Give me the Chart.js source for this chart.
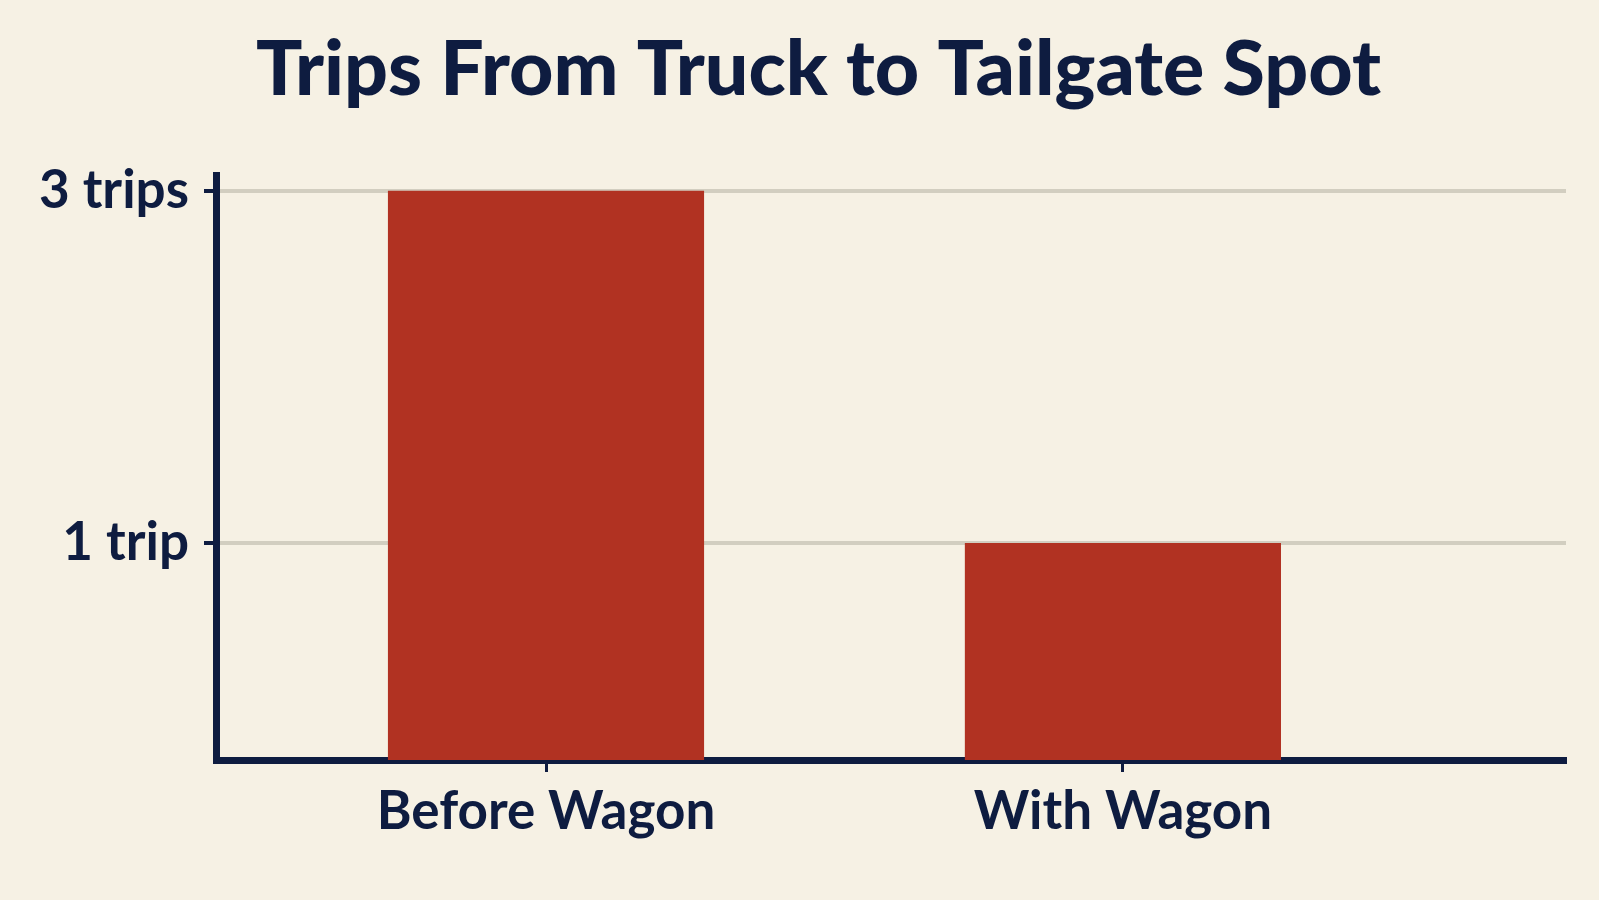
<!DOCTYPE html>
<html>
<head>
<meta charset="utf-8">
<title>Trips From Truck to Tailgate Spot</title>
<script src="https://cdn.jsdelivr.net/npm/chart.js@4.4.1/dist/chart.umd.min.js"></script>
<style>
  html, body { margin: 0; padding: 0; background: #f6f1e4; }
  #wrap { width: 1599px; height: 900px; }
</style>
</head>
<body>
<div id="wrap"><canvas id="tripsChart"></canvas></div>
<script>
// Chart data
const categories = ['Before Wagon', 'With Wagon'];
const categoryPositions = [0, 1];
const trips = [3, 1];
const yTickValues = [1, 3];
const yTickLabels = ['1 trip', '3 trips'];

// Colours
const navy = '#0e1c40';
const barRed = '#b13222';
const gridGrey = '#d2cec0';
const fontFamily = 'Lato, "Liberation Sans", sans-serif';

// Axis ranges (the picture's value axis starts a little below zero)
const yMin = -0.233;
const yMax = 3.09;

const points = categoryPositions.map((x, i) => ({ x: x, y: trips[i] }));

// Title in the picture sits a bit right of the canvas centre
const shiftTitle = {
    id: 'shiftTitle',
    afterLayout(chart) {
        const t = chart.titleBlock;
        if (t) { t.left += 16; t.right += 16; }
    }
};

new Chart(document.getElementById('tripsChart'), {
    type: 'bar',
    data: {
        datasets: [{
            label: 'Trips',
            data: points,
            backgroundColor: barRed,
            borderWidth: 0,
            base: yMin,
            categoryPercentage: 1,
            barPercentage: 0.548
        }]
    },
    plugins: [shiftTitle],
    options: {
        responsive: true,
        maintainAspectRatio: false,
        animation: false,
        layout: {
            padding: { left: 39, right: 33, top: 0, bottom: 0 }
        },
        plugins: {
            legend: { display: false },
            tooltip: { enabled: false },
            title: {
                display: true,
                text: 'Trips From Truck to Tailgate Spot',
                color: navy,
                font: { family: fontFamily, size: 77, weight: 900, lineHeight: 1.2 },
                padding: { top: 24, bottom: 58.6 }
            }
        },
        scales: {
            x: {
                type: 'linear',
                min: -0.572,
                max: 1.768,
                offset: false,
                z: 1,
                afterBuildTicks: (scale) => {
                    scale.ticks = categoryPositions.map(v => ({ value: v }));
                },
                afterFit: (scale) => { scale.height = 140; },
                ticks: {
                    color: navy,
                    font: { family: fontFamily, size: 53, weight: 'bold', lineHeight: 1.2 },
                    padding: 8,
                    maxRotation: 0,
                    autoSkip: false,
                    callback: (value) => categories[categoryPositions.indexOf(value)]
                },
                grid: {
                    offset: false,
                    drawOnChartArea: false,
                    drawTicks: true,
                    tickLength: 12,
                    tickColor: navy,
                    tickWidth: 3
                },
                border: { display: true, color: navy, width: 7 }
            },
            y: {
                min: yMin,
                max: yMax,
                afterBuildTicks: (scale) => {
                    scale.ticks = yTickValues.map(v => ({ value: v }));
                },
                afterFit: (scale) => { scale.width = 177; },
                ticks: {
                    color: navy,
                    font: { family: fontFamily, size: 53, weight: 'bold' },
                    padding: 15,
                    callback: (value) => yTickLabels[yTickValues.indexOf(value)]
                },
                grid: {
                    color: gridGrey,
                    lineWidth: 4,
                    drawTicks: true,
                    tickLength: 12,
                    tickColor: navy,
                    tickWidth: 4
                },
                border: { display: true, color: navy, width: 7 }
            }
        }
    }
});
</script>
</body>
</html>
